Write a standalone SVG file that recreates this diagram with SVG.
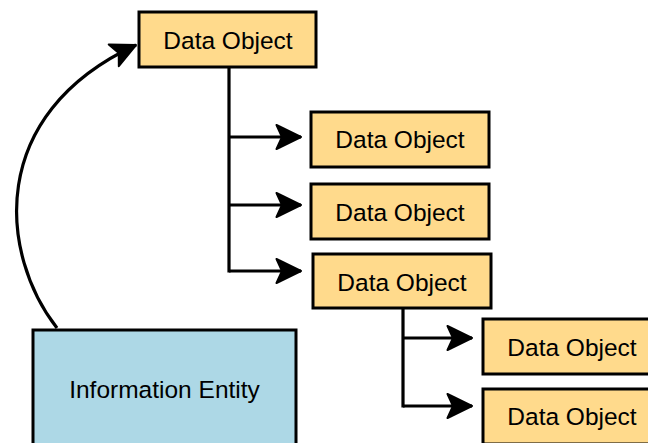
<svg xmlns="http://www.w3.org/2000/svg" width="648" height="443" viewBox="0 0 648 443">
  <style>
    .obj { fill: #FFDA8C; stroke: #000; stroke-width: 3; }
    .ent { fill: #ADD8E6; stroke: #000; stroke-width: 3; }
    .lbl { font-family: "Liberation Sans", Arial, sans-serif; font-size: 24.5px; fill: #000; text-anchor: middle; }
    .wire { fill: none; stroke: #000; stroke-width: 3.2; }
  </style>
  <defs>
    <!-- filled arrowhead with a notched back, sized in user units -->
    <marker id="arrow" markerUnits="userSpaceOnUse" markerWidth="30" markerHeight="30" refX="25" refY="12.5" orient="auto" overflow="visible">
      <path d="M0.5,0.5 L25,12.5 L0.5,24.5 L6,12.5 Z" fill="#000" stroke="#000" stroke-width="2" stroke-linejoin="round"/>
    </marker>
  </defs>

  <rect width="648" height="443" fill="#fff"/>

  <!-- connectors -->
  <g id="connectors">
    <path class="wire" d="M57,328 C0,255 -15,115 136,45" marker-end="url(#arrow)"/>
    <path class="wire" d="M229,67 V272.5"/>
    <path class="wire" d="M229,137 H301" marker-end="url(#arrow)"/>
    <path class="wire" d="M229,205 H301" marker-end="url(#arrow)"/>
    <path class="wire" d="M229,271 H301" marker-end="url(#arrow)"/>
    <path class="wire" d="M403,308 V407.5"/>
    <path class="wire" d="M403,338 H472" marker-end="url(#arrow)"/>
    <path class="wire" d="M403,406 H472" marker-end="url(#arrow)"/>
  </g>

  <!-- nodes -->
  <g id="obj-root">
    <rect class="obj" x="139" y="12" width="177" height="55"/>
    <text class="lbl" x="228" y="49">Data Object</text>
  </g>
  <g id="obj-a">
    <rect class="obj" x="311" y="112" width="178" height="55"/>
    <text class="lbl" x="400" y="148">Data Object</text>
  </g>
  <g id="obj-b">
    <rect class="obj" x="311" y="184" width="178" height="55"/>
    <text class="lbl" x="400" y="221">Data Object</text>
  </g>
  <g id="obj-c">
    <rect class="obj" x="313" y="254" width="178" height="54"/>
    <text class="lbl" x="402" y="291">Data Object</text>
  </g>
  <g id="obj-c1">
    <rect class="obj" x="483" y="319" width="178" height="55"/>
    <text class="lbl" x="572" y="356">Data Object</text>
  </g>
  <g id="obj-c2">
    <rect class="obj" x="483" y="389" width="178" height="55"/>
    <text class="lbl" x="572" y="425">Data Object</text>
  </g>
  <g id="info-entity">
    <rect class="ent" x="33" y="330" width="263" height="120"/>
    <text class="lbl" x="164.5" y="398">Information Entity</text>
  </g>
</svg>
